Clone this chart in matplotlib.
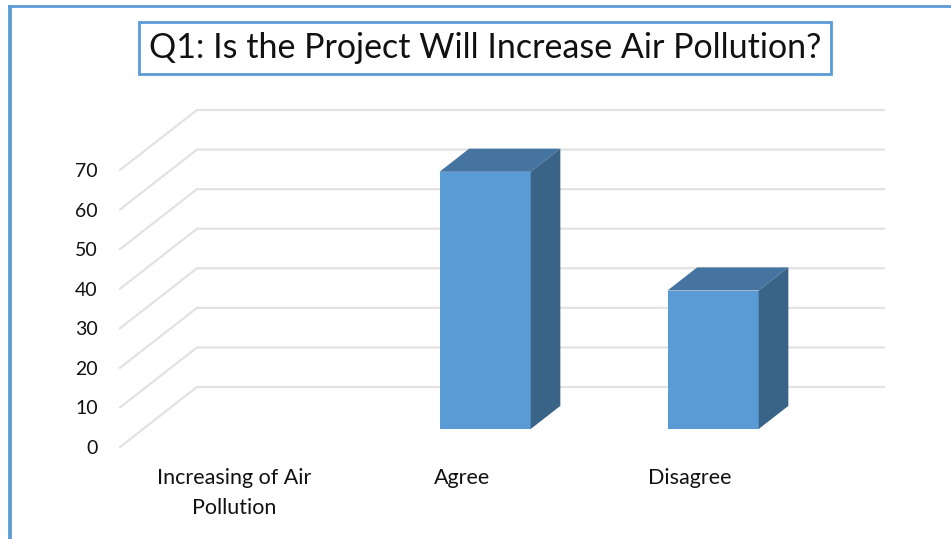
import matplotlib
matplotlib.use('Agg')
import matplotlib.pyplot as plt
from matplotlib.lines import Line2D
from matplotlib.patches import Polygon

categories = ['Increasing of Air\nPollution', 'Agree', 'Disagree']
values = [0, 65, 35]
y_ticks = [0, 10, 20, 30, 40, 50, 60, 70]
title = 'Q1: Is the Project Will Increase Air Pollution?'

W, H = 951, 539
BLUE = '#5B9BD5'
TOP = '#44749F'
SIDE = '#3A6487'
GRID = '#E2E2E2'

# front plane of the fake 3d box, in pixels
left, right, bottom, top = 120, 804, 447, 170
# how far one full depth unit shifts things, in data units
dx_depth = 77 / 228
dy_depth = 60 / ((bottom - top) / 70)
bar_w = 0.4
d0, d1 = 0.3, 0.685


def proj(x, y, d):
    return x + d * dx_depth, y + d * dy_depth


plt.rcParams['font.family'] = ['Lato', 'DejaVu Sans']
fig = plt.figure(figsize=(W / 100, H / 100), dpi=100)
ax = fig.add_axes([left / W, 1 - bottom / H, (right - left) / W, (bottom - top) / H])
ax.set_xlim(-0.5, 2.5)
ax.set_ylim(0, 70)
for s in ax.spines.values():
    s.set_visible(False)
ax.patch.set_visible(False)

# side wall + back wall gridlines
x_end = 2.5 + 80 / 228
for t in y_ticks:
    x1, y1 = proj(-0.5, t, 1)
    x0, y0 = proj(-0.5, t, 0)
    ax.plot([x0, x1, x_end], [y0, y1, y1], color=GRID, lw=1.6, clip_on=False,
            solid_joinstyle='miter', zorder=1)

for i, v in enumerate(values):
    if v == 0:
        continue
    xl, xr = i - bar_w / 2, i + bar_w / 2
    sx, sy = proj(0, 0, d0)
    ax.bar(i + sx, v, bottom=sy, width=bar_w, color=BLUE, clip_on=False, zorder=3)
    a = [proj(xl, v, d0), proj(xr, v, d0), proj(xr, v, d1), proj(xl, v, d1)]
    b = [proj(xr, 0, d0), proj(xr, v, d0), proj(xr, v, d1), proj(xr, 0, d1)]
    ax.add_patch(Polygon(a, closed=True, fc=TOP, ec='none', clip_on=False, zorder=3))
    ax.add_patch(Polygon(b, closed=True, fc=SIDE, ec='none', clip_on=False, zorder=3))

ax.set_yticks(y_ticks)
ax.set_xticks(range(len(categories)))
ax.set_xticklabels(categories, linespacing=1.62, ha='center')
ax.tick_params(axis='y', length=0, pad=16, labelsize=14, labelcolor='#111111')
ax.tick_params(axis='x', length=0, pad=15, labelsize=15.5, labelcolor='#111111')

fig.text(485 / W, 1 - 48 / H, title, fontsize=24.5, color='#111111', ha='center', va='center',
         bbox=dict(boxstyle='square,pad=0.29', fc='white', ec=BLUE, lw=2))

# page frame, only top and left show
fig.add_artist(Line2D([10 / W, 10 / W], [0, 1 - 5 / H], color=BLUE, lw=2.7,
                      solid_capstyle='butt'))
fig.add_artist(Line2D([8 / W, 1], [1 - 6.3 / H, 1 - 6.3 / H], color=BLUE, lw=2,
                      solid_capstyle='butt'))

fig.savefig('out.png', dpi=100)
